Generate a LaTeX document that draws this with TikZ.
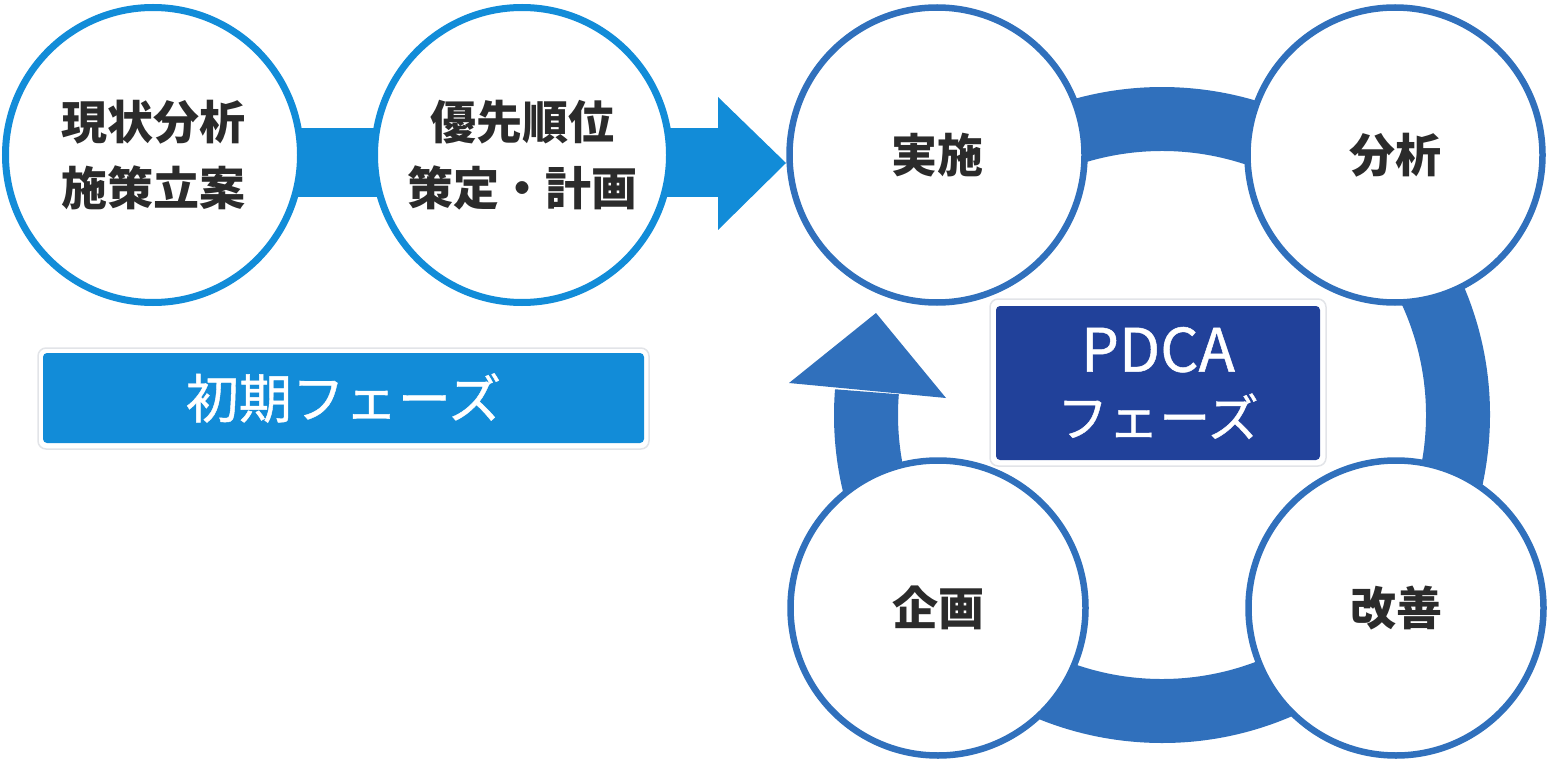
\documentclass[tikz,border=0pt]{standalone}
\usepackage{fontspec}
\setmainfont{Noto Sans CJK JP}
\newfontfamily\jpmed{Noto Sans CJK JP}[FakeBold=0.8]
\usetikzlibrary{calc}
\definecolor{lblue}{HTML}{128CD8}
\definecolor{pblue}{HTML}{3070BC}
\definecolor{dblue}{HTML}{21419A}
\definecolor{txt}{HTML}{2B2B2B}
\definecolor{shadowgray}{HTML}{E2E4E8}
\begin{document}
\begin{tikzpicture}[x=1pt,y=-1pt,
  initcircle/.style={circle, draw=lblue, line width=7pt, fill=white, minimum size=295pt, inner sep=0pt, align=center, text=txt, font=\bfseries\fontsize{46}{66}\selectfont},
  pdcacircle/.style={circle, draw=pblue, line width=6.5pt, fill=white, minimum size=295pt, inner sep=0pt, align=center, text=txt, font=\bfseries\fontsize{46}{55}\selectfont},
  labelframe/.style={fill=white, draw=shadowgray, line width=1.5pt, rounded corners=8pt},
  initlabel/.style={rectangle, fill=lblue, rounded corners=4pt, minimum width=601pt, minimum height=90pt, inner sep=0pt, text=white, font=\jpmed\fontsize{53}{60}\selectfont},
  pdcalabel/.style={rectangle, fill=dblue, rounded corners=4pt, minimum width=324pt, minimum height=154pt, inner sep=0pt, align=center, text=white, font=\jpmed\fontsize{51}{65}\selectfont}
]
\useasboundingbox (0,0) rectangle (1550,762);

% ---- initial phase ----
\fill[lblue] (150,128) rectangle (719,197);
\fill[lblue] (718,97) -- (786,163) -- (718,230) -- cycle;
\node[initcircle] (genjo) at (153,155) {現状分析\\施策立案};
\node[initcircle] (yusen) at (522,155) {優先順位\\策定・計画};

\draw[labelframe] (38,348) rectangle (649,449);
\node[initlabel] (shoki) at (343.5,398) {初期フェーズ};

% ---- PDCA ring ----
\coordinate (rc) at (1162,415);
\fill[pblue] ($(rc)+(175.5:328pt)$) arc[start angle=175.5, end angle=500, radius=328pt]
  -- ($(rc)+(500:264pt)$) arc[start angle=500, end angle=175.5, radius=264pt] -- cycle;
\fill[pblue] (789,383) -- (876,313) -- (946,398) -- cycle;

\node[pdcacircle] (jisshi) at (937,155) {実施};
\node[pdcacircle] (bunseki) at (1395,155) {分析};
\node[pdcacircle] (kikaku) at (938,608) {企画};
\node[pdcacircle] (kaizen) at (1396,608) {改善};

\draw[labelframe] (990,299) rectangle (1326,466);
\node[pdcalabel] (pdca) at (1158,383) {{\fontsize{60}{65}\selectfont PDCA}\\フェーズ};
\end{tikzpicture}
\end{document}
